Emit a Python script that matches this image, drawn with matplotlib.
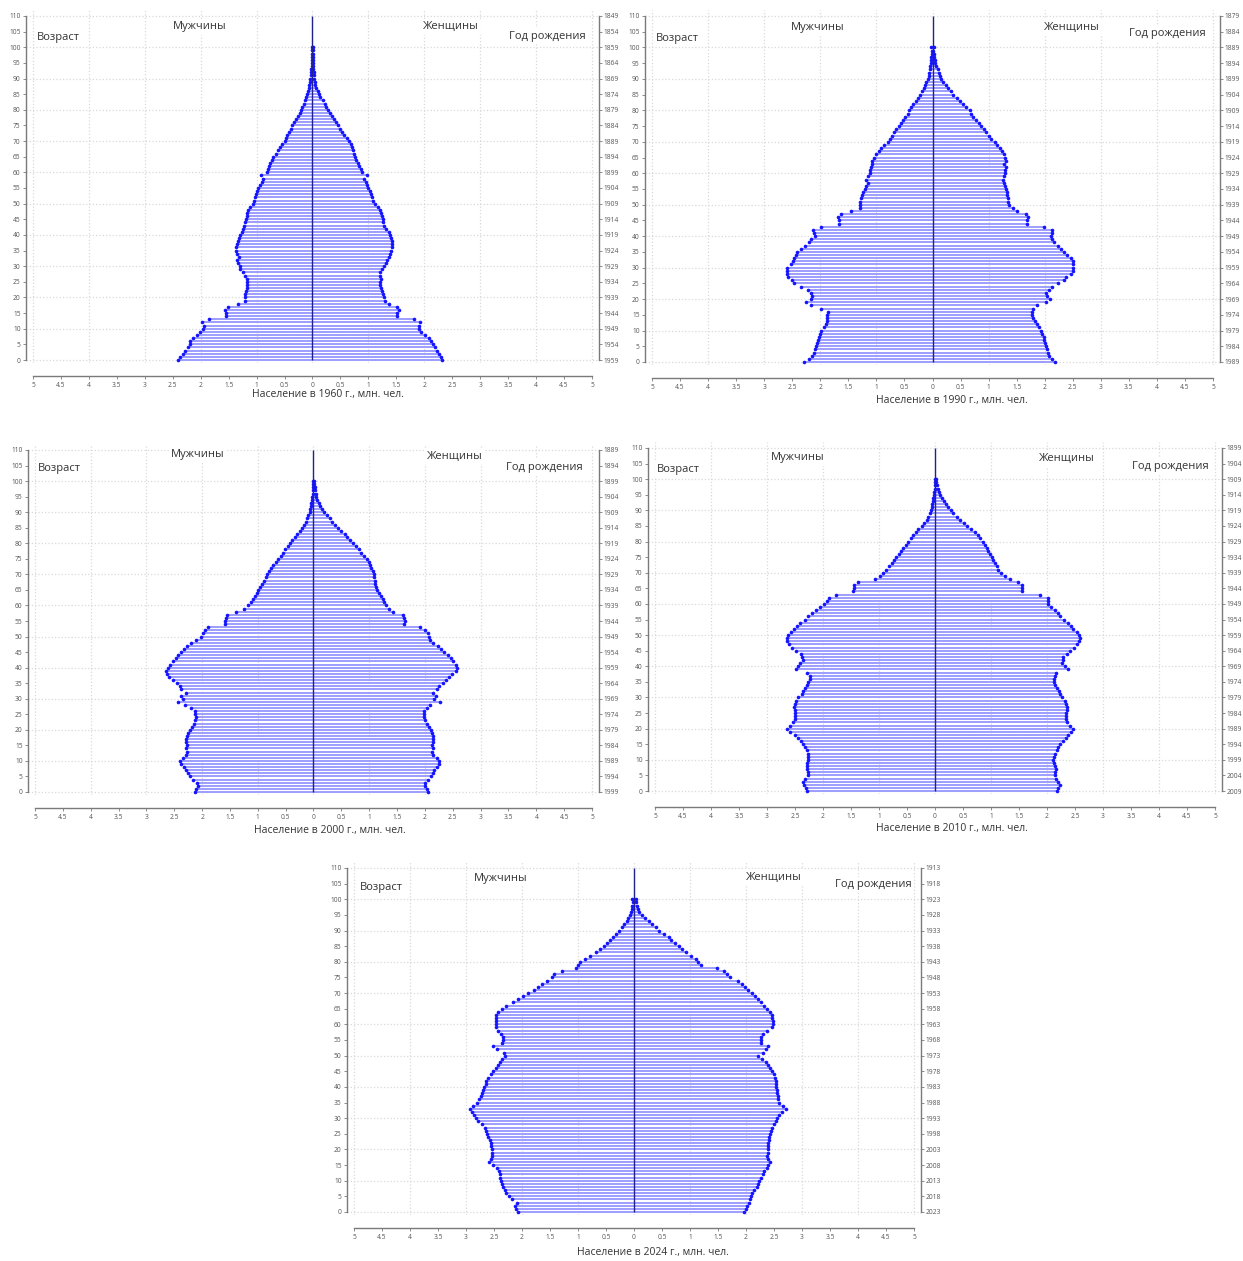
import numpy as np
import matplotlib
matplotlib.use('Agg')
import matplotlib.pyplot as plt
from matplotlib.ticker import MultipleLocator, FuncFormatter

plt.rcParams['font.family'] = ['Open Sans', 'DejaVu Sans']

W, H = 1243, 1261

# ages 0..100, population in millions per single year of age
ages = np.arange(0, 101)

men_1960 = [
    2.40, 2.37, 2.32, 2.28, 2.23, 2.20, 2.19, 2.13, 2.07, 2.01,
    1.95, 1.94, 1.98, 1.85, 1.54, 1.54, 1.57, 1.51, 1.33, 1.21,
    1.21, 1.21, 1.19, 1.18, 1.18, 1.17, 1.18, 1.21, 1.25, 1.29,
    1.30, 1.33, 1.35, 1.31, 1.35, 1.36, 1.36, 1.35, 1.33, 1.31,
    1.30, 1.27, 1.25, 1.23, 1.21, 1.19, 1.18, 1.17, 1.15, 1.11,
    1.07, 1.05, 1.03, 1.01, 0.99, 0.97, 0.94, 0.91, 0.88, 0.92,
    0.81, 0.80, 0.78, 0.76, 0.73, 0.70, 0.66, 0.62, 0.58, 0.54,
    0.50, 0.48, 0.45, 0.42, 0.39, 0.36, 0.33, 0.30, 0.26, 0.23,
    0.20, 0.18, 0.16, 0.14, 0.12, 0.10, 0.08, 0.07, 0.06, 0.05,
    0.04, 0.03, 0.025, 0.02, 0.015, 0.01, 0.008, 0.006, 0.004, 0.003, 0.002]
women_1960 = [
    2.32, 2.29, 2.26, 2.23, 2.20, 2.16, 2.12, 2.08, 2.02, 1.94,
    1.91, 1.90, 1.93, 1.81, 1.51, 1.52, 1.55, 1.51, 1.36, 1.30,
    1.28, 1.26, 1.24, 1.22, 1.21, 1.21, 1.22, 1.20, 1.21, 1.24,
    1.28, 1.32, 1.34, 1.36, 1.38, 1.40, 1.42, 1.42, 1.42, 1.41,
    1.39, 1.36, 1.32, 1.28, 1.27, 1.26, 1.24, 1.22, 1.21, 1.18,
    1.12, 1.09, 1.07, 1.05, 1.03, 1.00, 0.98, 0.95, 0.92, 0.98,
    0.88, 0.86, 0.84, 0.81, 0.78, 0.76, 0.74, 0.72, 0.70, 0.68,
    0.65, 0.61, 0.57, 0.53, 0.49, 0.45, 0.42, 0.38, 0.35, 0.31,
    0.28, 0.25, 0.22, 0.18, 0.14, 0.11, 0.09, 0.07, 0.05, 0.04,
    0.03, 0.025, 0.02, 0.015, 0.012, 0.01, 0.008, 0.006, 0.004, 0.003, 0.002]

men_1990 = [
    2.29, 2.20, 2.14, 2.12, 2.10, 2.07, 2.06, 2.04, 2.03, 2.01,
    1.98, 1.94, 1.89, 1.88, 1.88, 1.88, 1.86, 1.98, 2.16, 2.25,
    2.16, 2.14, 2.16, 2.22, 2.34, 2.46, 2.51, 2.57, 2.60, 2.60,
    2.59, 2.53, 2.49, 2.46, 2.43, 2.41, 2.34, 2.28, 2.20, 2.16,
    2.10, 2.12, 2.13, 1.98, 1.67, 1.67, 1.69, 1.63, 1.45, 1.30,
    1.29, 1.29, 1.27, 1.25, 1.23, 1.21, 1.19, 1.15, 1.18, 1.15,
    1.12, 1.11, 1.09, 1.08, 1.07, 1.04, 1.01, 0.96, 0.92, 0.86,
    0.80, 0.76, 0.72, 0.68, 0.65, 0.60, 0.56, 0.53, 0.49, 0.44,
    0.41, 0.38, 0.34, 0.30, 0.25, 0.22, 0.19, 0.16, 0.13, 0.11,
    0.08, 0.07, 0.06, 0.05, 0.04, 0.03, 0.025, 0.02, 0.015, 0.012, 0.02]
women_1990 = [
    2.19, 2.13, 2.07, 2.05, 2.04, 2.02, 2.01, 1.99, 1.98, 1.96,
    1.93, 1.90, 1.86, 1.83, 1.80, 1.78, 1.78, 1.80, 1.86, 2.02,
    2.10, 2.04, 2.02, 2.07, 2.13, 2.23, 2.34, 2.38, 2.46, 2.50,
    2.51, 2.51, 2.50, 2.47, 2.40, 2.34, 2.29, 2.23, 2.17, 2.13,
    2.11, 2.13, 2.13, 1.99, 1.69, 1.69, 1.71, 1.66, 1.50, 1.43,
    1.37, 1.35, 1.34, 1.33, 1.32, 1.31, 1.29, 1.27, 1.26, 1.27,
    1.29, 1.30, 1.31, 1.27, 1.31, 1.29, 1.27, 1.23, 1.20, 1.15,
    1.11, 1.05, 1.01, 0.96, 0.92, 0.87, 0.83, 0.78, 0.73, 0.69,
    0.66, 0.60, 0.55, 0.49, 0.43, 0.37, 0.33, 0.28, 0.24, 0.19,
    0.15, 0.13, 0.11, 0.09, 0.07, 0.05, 0.04, 0.03, 0.02, 0.015, 0.03]

men_2000 = [
    2.13, 2.11, 2.08, 2.10, 2.17, 2.21, 2.25, 2.29, 2.33, 2.38,
    2.39, 2.35, 2.29, 2.27, 2.29, 2.27, 2.29, 2.29, 2.27, 2.26,
    2.21, 2.19, 2.14, 2.13, 2.11, 2.13, 2.13, 2.20, 2.30, 2.43,
    2.35, 2.38, 2.29, 2.38, 2.40, 2.45, 2.53, 2.59, 2.63, 2.65,
    2.62, 2.57, 2.53, 2.47, 2.43, 2.38, 2.33, 2.27, 2.20, 2.11,
    2.02, 1.99, 1.95, 1.90, 1.58, 1.58, 1.57, 1.55, 1.40, 1.24,
    1.17, 1.13, 1.09, 1.05, 1.02, 0.99, 0.96, 0.93, 0.89, 0.86,
    0.83, 0.79, 0.76, 0.72, 0.68, 0.63, 0.59, 0.55, 0.51, 0.46,
    0.42, 0.38, 0.34, 0.30, 0.25, 0.21, 0.17, 0.14, 0.11, 0.09,
    0.07, 0.06, 0.05, 0.04, 0.03, 0.02, 0.015, 0.012, 0.01, 0.008, 0.006]
women_2000 = [
    2.05, 2.04, 2.01, 2.01, 2.05, 2.11, 2.14, 2.17, 2.21, 2.25,
    2.26, 2.21, 2.15, 2.13, 2.14, 2.13, 2.15, 2.15, 2.14, 2.13,
    2.11, 2.08, 2.04, 2.01, 1.99, 1.99, 1.99, 2.04, 2.10, 2.27,
    2.17, 2.20, 2.15, 2.22, 2.26, 2.32, 2.38, 2.44, 2.49, 2.55,
    2.57, 2.56, 2.51, 2.47, 2.41, 2.35, 2.29, 2.23, 2.14, 2.10,
    2.07, 2.05, 2.00, 1.92, 1.62, 1.64, 1.62, 1.60, 1.43, 1.36,
    1.30, 1.27, 1.24, 1.21, 1.18, 1.14, 1.12, 1.11, 1.10, 1.09,
    1.08, 1.06, 1.04, 1.02, 1.00, 0.96, 0.91, 0.86, 0.81, 0.76,
    0.71, 0.66, 0.61, 0.56, 0.50, 0.44, 0.39, 0.34, 0.29, 0.24,
    0.19, 0.15, 0.12, 0.09, 0.07, 0.05, 0.04, 0.03, 0.02, 0.015, 0.01]

men_2010 = [
    2.28, 2.30, 2.34, 2.36, 2.32, 2.26, 2.26, 2.28, 2.29, 2.28,
    2.26, 2.26, 2.26, 2.28, 2.32, 2.36, 2.40, 2.44, 2.50, 2.59,
    2.64, 2.59, 2.53, 2.50, 2.50, 2.50, 2.50, 2.52, 2.50, 2.48,
    2.44, 2.38, 2.36, 2.32, 2.28, 2.26, 2.24, 2.24, 2.29, 2.48,
    2.44, 2.41, 2.35, 2.38, 2.40, 2.48, 2.56, 2.60, 2.64, 2.64,
    2.62, 2.58, 2.52, 2.47, 2.41, 2.32, 2.26, 2.20, 2.13, 2.05,
    1.98, 1.93, 1.90, 1.77, 1.46, 1.45, 1.45, 1.37, 1.07, 0.98,
    0.93, 0.87, 0.82, 0.77, 0.74, 0.70, 0.65, 0.61, 0.57, 0.52,
    0.48, 0.43, 0.39, 0.34, 0.30, 0.24, 0.20, 0.15, 0.12, 0.09,
    0.08, 0.06, 0.05, 0.04, 0.03, 0.02, 0.012, 0.008, 0.005, 0.004, 0.003]
women_2010 = [
    2.17, 2.20, 2.23, 2.20, 2.16, 2.14, 2.14, 2.16, 2.14, 2.13,
    2.11, 2.13, 2.14, 2.17, 2.20, 2.24, 2.29, 2.34, 2.38, 2.42,
    2.46, 2.41, 2.36, 2.34, 2.34, 2.34, 2.35, 2.35, 2.34, 2.32,
    2.26, 2.24, 2.22, 2.17, 2.14, 2.13, 2.13, 2.14, 2.16, 2.38,
    2.32, 2.26, 2.29, 2.28, 2.35, 2.41, 2.48, 2.54, 2.58, 2.59,
    2.58, 2.54, 2.47, 2.42, 2.38, 2.30, 2.24, 2.20, 2.14, 2.08,
    2.02, 2.01, 2.01, 1.88, 1.55, 1.55, 1.55, 1.49, 1.34, 1.25,
    1.17, 1.13, 1.10, 1.07, 1.04, 1.01, 0.98, 0.95, 0.92, 0.89,
    0.86, 0.81, 0.76, 0.71, 0.65, 0.58, 0.51, 0.45, 0.39, 0.33,
    0.28, 0.24, 0.20, 0.16, 0.12, 0.09, 0.07, 0.05, 0.03, 0.02, 0.015]

men_2024 = [
    2.07, 2.10, 2.12, 2.09, 2.18, 2.23, 2.28, 2.30, 2.34, 2.36,
    2.38, 2.39, 2.40, 2.41, 2.44, 2.52, 2.59, 2.56, 2.54, 2.54,
    2.54, 2.55, 2.56, 2.58, 2.60, 2.62, 2.64, 2.66, 2.72, 2.78,
    2.82, 2.86, 2.89, 2.92, 2.88, 2.80, 2.76, 2.73, 2.71, 2.69,
    2.67, 2.65, 2.64, 2.61, 2.56, 2.52, 2.47, 2.43, 2.40, 2.36,
    2.30, 2.32, 2.45, 2.51, 2.35, 2.34, 2.34, 2.38, 2.42, 2.47,
    2.47, 2.47, 2.47, 2.46, 2.42, 2.36, 2.29, 2.16, 2.08, 1.98,
    1.89, 1.79, 1.72, 1.64, 1.55, 1.46, 1.43, 1.28, 1.04, 1.00,
    0.96, 0.88, 0.78, 0.68, 0.60, 0.54, 0.48, 0.43, 0.38, 0.32,
    0.27, 0.21, 0.17, 0.13, 0.10, 0.07, 0.05, 0.04, 0.03, 0.02, 0.03]
women_2024 = [
    1.96, 2.00, 2.02, 2.05, 2.07, 2.09, 2.11, 2.15, 2.20, 2.22,
    2.24, 2.27, 2.30, 2.33, 2.37, 2.40, 2.42, 2.39, 2.38, 2.39,
    2.40, 2.40, 2.40, 2.41, 2.41, 2.42, 2.44, 2.46, 2.50, 2.54,
    2.56, 2.59, 2.64, 2.71, 2.66, 2.59, 2.58, 2.57, 2.56, 2.55,
    2.54, 2.54, 2.53, 2.52, 2.50, 2.47, 2.42, 2.39, 2.35, 2.28,
    2.22, 2.30, 2.35, 2.40, 2.26, 2.26, 2.26, 2.30, 2.38, 2.47,
    2.48, 2.48, 2.47, 2.46, 2.43, 2.38, 2.33, 2.26, 2.21, 2.16,
    2.10, 2.04, 1.98, 1.92, 1.85, 1.72, 1.66, 1.61, 1.49, 1.19,
    1.14, 1.10, 1.01, 0.92, 0.86, 0.80, 0.73, 0.66, 0.62, 0.54,
    0.45, 0.39, 0.33, 0.27, 0.20, 0.14, 0.09, 0.07, 0.05, 0.03, 0.04]

years = [1960, 1990, 2000, 2010, 2024]
men_all = [men_1960, men_1990, men_2000, men_2010, men_2024]
women_all = [women_1960, women_1990, women_2000, women_2010, women_2024]

# layout in pixels: x of -5, x of +5, y of age 0, y of age 110, xlabel centre (x, y)
layout = [
    (33, 592, 360, 16, 328, 395),
    (652, 1213, 362, 16, 952, 401),
    (35, 592, 792, 450, 330, 831),
    (655, 1215, 791, 448, 952, 829),
    (354, 914, 1212, 868, 653, 1252),
]
# text positions (data coords): Возраст, Мужчины, Женщины, Год рождения
label_pos = [
    [(-4.93, 103.0), (-2.01, 106.5), (2.48, 106.5), (4.20, 103.6)],
    [(-4.93, 103.0), (-2.04, 106.5), (2.49, 106.5), (4.18, 104.3)],
    [(-4.94, 104.2), (-2.08, 108.7), (2.53, 108.0), (4.15, 104.5)],
    [(-4.96, 103.0), (-2.45, 106.8), (2.36, 106.5), (4.21, 104.2)],
    [(-4.89, 103.9), (-2.38, 106.8), (2.50, 107.1), (4.27, 104.6)],
]

BAR = '#9d9dff'
EDGE = '#1414ff'
AXC = '#7a7a7a'
TXT = '#333333'

fig = plt.figure(figsize=(W / 100, H / 100), dpi=100)
fig.patch.set_facecolor('white')

absfmt = FuncFormatter(lambda v, p: f'{abs(v):g}')

for year, men, women, lay, lp in zip(years, men_all, women_all, layout, label_pos):
    x0, x1, y0, y110, lx, ly = lay
    u = (x1 - x0) / 10.0
    p = (y0 - y110) / 110.0
    left = x0 - 0.12 * u
    right = x1 + 0.12 * u
    top = y110 - 2 * p
    bottom = y0 + 1 * p
    ax = fig.add_axes([left / W, 1 - bottom / H, (right - left) / W, (bottom - top) / H])
    ax.set_xlim(-5.12, 5.12)
    ax.set_ylim(-1, 112)
    ax.set_axisbelow(True)

    men = np.array(men)
    women = np.array(women)

    # bars as thin horizontal lines, dark end markers
    ax.hlines(ages, 0, -men, color=BAR, lw=1.4, zorder=2)
    ax.hlines(ages, 0, women, color=BAR, lw=1.4, zorder=2)
    ax.plot(-men, ages, 'o', ms=2.6, mew=0, color=EDGE, zorder=3)
    ax.plot(women, ages, 'o', ms=2.6, mew=0, color=EDGE, zorder=3)
    ax.vlines(0, 0, 110, color='#22228c', lw=1.0, zorder=4)

    # ticks and grid
    ax.xaxis.set_major_locator(MultipleLocator(1))
    ax.xaxis.set_minor_locator(MultipleLocator(0.5))
    ax.xaxis.set_major_formatter(absfmt)
    ax.xaxis.set_minor_formatter(absfmt)
    ax.yaxis.set_major_locator(MultipleLocator(10))
    ax.yaxis.set_minor_locator(MultipleLocator(5))
    ax.yaxis.set_major_formatter(FuncFormatter(lambda v, p: f'{v:g}'))
    ax.yaxis.set_minor_formatter(FuncFormatter(lambda v, p: f'{v:g}'))
    ax.grid(which='major', color='#d9d9d9', ls=':', lw=0.9)
    ax.tick_params(which='both', length=2.5, width=0.6, color=AXC,
                   labelsize=4.8, labelcolor='#555555', pad=1.5)

    ax.spines['top'].set_visible(False)
    ax.spines['right'].set_visible(False)
    ax.spines['bottom'].set_position(('outward', 9.4))
    ax.spines['bottom'].set_bounds(-5, 5)
    ax.spines['left'].set_bounds(0, 110)
    for s in ['bottom', 'left']:
        ax.spines[s].set_color(AXC)
        ax.spines[s].set_linewidth(1.0)

    # birth year axis on the right
    ax2 = ax.twinx()
    ax2.set_ylim(-1, 112)
    yt = np.arange(0, 111, 5)
    ax2.set_yticks(yt)
    ax2.set_yticklabels([str(year - 1 - a) for a in yt])
    ax2.tick_params(length=2.5, width=0.6, color=AXC, labelsize=4.8,
                    labelcolor='#555555', pad=1.0)
    for s in ['top', 'left', 'bottom']:
        ax2.spines[s].set_visible(False)
    ax2.spines['right'].set_bounds(0, 110)
    ax2.spines['right'].set_color(AXC)
    ax2.spines['right'].set_linewidth(1.0)

    box = dict(fc='white', ec='none', pad=1.5)
    ax.text(lp[0][0], lp[0][1], 'Возраст', fontsize=8, color=TXT,
            ha='left', va='center', bbox=box, zorder=5)
    ax.text(lp[1][0], lp[1][1], 'Мужчины', fontsize=8, color=TXT,
            ha='center', va='center', bbox=box, zorder=5)
    ax.text(lp[2][0], lp[2][1], 'Женщины', fontsize=8, color=TXT,
            ha='center', va='center', bbox=box, zorder=5)
    ax.text(lp[3][0], lp[3][1], 'Год рождения', fontsize=8, color=TXT,
            ha='center', va='center', bbox=box, zorder=5)

    fig.text(lx / W, 1 - ly / H, f'Население в {year} г., млн. чел.',
             fontsize=7.5, color=TXT, ha='center', va='center')

fig.savefig('out.png', dpi=100, facecolor='white')
